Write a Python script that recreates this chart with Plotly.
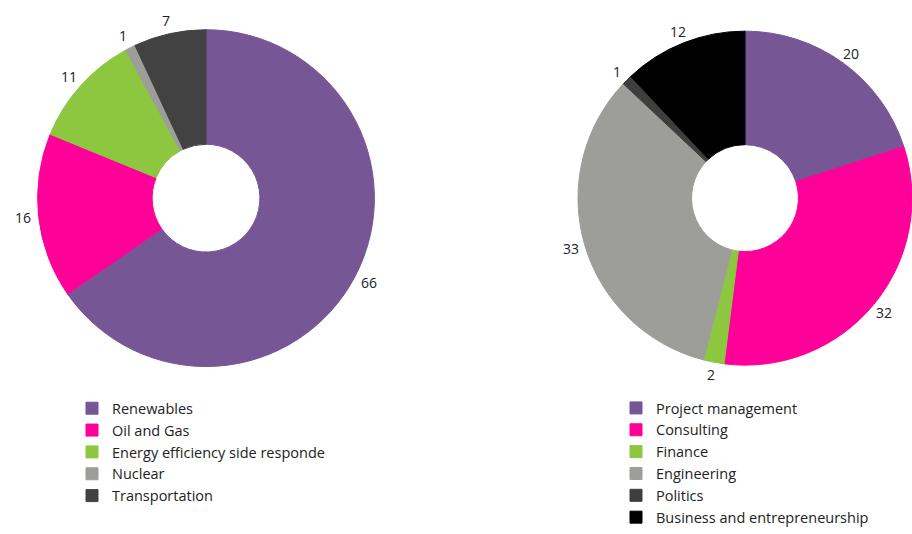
import math
import plotly.graph_objects as go

W, H = 912, 534

# Sector split (left donut)
sector_labels = ["Renewables", "Oil and Gas", "Energy efficiency side responde", "Nuclear", "Transportation"]
sector_values = [66, 16, 11, 1, 7]
sector_colors = ["#775696", "#ff0099", "#8dc63f", "#9d9d99", "#424242"]

# Role split (right donut)
role_labels = ["Project management", "Consulting", "Finance", "Engineering", "Politics",
               "Business and entrepreneurship"]
role_values = [20, 32, 2, 33, 1, 12]
role_colors = ["#775696", "#ff0099", "#8dc63f", "#9d9d99", "#3e3e3e", "#000000"]

FONT = "Open Sans, Noto Sans, sans-serif"
TEXT_COLOR = "#222222"

# pie boxes in pixels: (left, top, right, bottom)
LEFT_BOX = (36, 30, 376, 370)
RIGHT_BOX = (578, 30, 912, 370)
LABEL_GAP = 14  # px between the rim and the value label centre


def domain_of(box):
    l, t, r, b = box
    return dict(x=[l / W, min(r / W, 1.0)], y=[1 - b / H, 1 - t / H])


def value_labels(values, box):
    """Value labels placed just outside the rim at each slice's mid-angle (clockwise from 12 o'clock)."""
    l, t, r, b = box
    cx, cy = (l + r) / 2, (t + b) / 2
    radius = min(r - l, b - t) / 2
    dist = radius + LABEL_GAP
    total = sum(values)
    acc = 0
    notes = []
    for v in values:
        mid = (acc + v / 2) / total * 2 * math.pi
        acc += v
        x = cx + dist * math.sin(mid)
        y = cy - dist * math.cos(mid)
        notes.append(dict(
            x=x / W, y=1 - y / H, xref="paper", yref="paper",
            text=str(v), showarrow=False, xanchor="center", yanchor="middle",
            font=dict(family=FONT, size=14, color=TEXT_COLOR),
        ))
    return notes


def donut(labels, values, colors, box, legend):
    return go.Pie(
        labels=labels, values=values,
        marker=dict(colors=colors, line=dict(color=colors, width=1)),
        domain=domain_of(box),
        hole=0.32,
        sort=False,
        direction="clockwise",
        rotation=0,
        textinfo="none",
        hoverinfo="label+value",
        legend=legend,
    )


fig = go.Figure()
fig.add_trace(donut(sector_labels, sector_values, sector_colors, LEFT_BOX, "legend"))
fig.add_trace(donut(role_labels, role_values, role_colors, RIGHT_BOX, "legend2"))

legend_style = dict(
    font=dict(family=FONT, size=14.5, color=TEXT_COLOR),
    bgcolor="rgba(0,0,0,0)",
    yanchor="top",
    xanchor="left",
    traceorder="normal",
    itemclick=False,
    itemdoubleclick=False,
)

fig.update_layout(
    width=W, height=H,
    margin=dict(l=0, r=0, t=0, b=0),
    paper_bgcolor="white",
    plot_bgcolor="white",
    showlegend=True,
    legend=dict(x=72 / W, y=1 - 396 / H, **legend_style),
    legend2=dict(x=616 / W, y=1 - 396 / H, **legend_style),
    annotations=value_labels(sector_values, LEFT_BOX) + value_labels(role_values, RIGHT_BOX),
)

fig.write_html("out.html")
